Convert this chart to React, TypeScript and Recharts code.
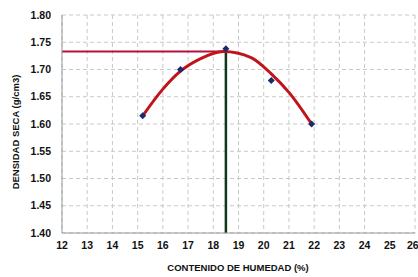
import React from 'react';
import { ComposedChart, Line, Scatter, XAxis, YAxis, CartesianGrid } from 'recharts';

const xTicks = [12, 13, 14, 15, 16, 17, 18, 19, 20, 21, 22, 23, 24, 25, 26];
const yTicks = [1.4, 1.45, 1.5, 1.55, 1.6, 1.65, 1.7, 1.75, 1.8];

const humedad = [15.2, 16.7, 18.5, 20.3, 21.9];
const densidad = [1.615, 1.7, 1.738, 1.68, 1.6];

const curveX = [15.2, 16.0, 16.7, 17.5, 18.4, 19.5, 20.3, 21.0, 21.9];
const curveY = [1.615, 1.664, 1.697, 1.72, 1.733, 1.722, 1.692, 1.658, 1.6];

const optHumedad = 18.5;
const maxDensidad = 1.733;

const points = humedad.map((x, i) => ({ x, y: densidad[i] }));
const curve = curveX.map((x, i) => ({ x, y: curveY[i] }));
const hLine = [{ x: 12, y: maxDensidad }, { x: optHumedad, y: maxDensidad }];
const vLine = [{ x: optHumedad, y: 1.4 }, { x: optHumedad, y: maxDensidad }];

const FONT = '"Liberation Sans", Arial, sans-serif';

const Diamond = (props: any) => {
  const { cx, cy } = props;
  const r = 3.5;
  return <path d={`M${cx},${cy - r}L${cx + r},${cy}L${cx},${cy + r}L${cx - r},${cy}Z`} fill="#1c2a6e" />;
};

export default function App() {
  return (
    <div style={{ position: 'absolute', left: 0, top: 0, width: 418, height: 277, background: '#fff' }}>
      <ComposedChart width={418} height={277} margin={{ top: 15, right: 3, bottom: 14, left: 0 }}>
        <CartesianGrid stroke="#c8c8c8" strokeDasharray="4 3" />
        <XAxis
          type="number"
          dataKey="x"
          domain={[12, 26]}
          ticks={xTicks}
          allowDataOverflow
          height={30}
          tickSize={0}
          tickMargin={9}
          axisLine={{ stroke: '#9a9a9a' }}
          tick={{ fill: '#111', fontSize: 10.5, fontWeight: 700, fontFamily: FONT }}
        />
        <YAxis
          type="number"
          domain={[1.4, 1.8]}
          ticks={yTicks}
          width={62}
          tickSize={0}
          tickMargin={11}
          axisLine={{ stroke: '#9a9a9a' }}
          tickFormatter={(v: number) => v.toFixed(2)}
          tick={{ fill: '#111', fontSize: 10.5, fontWeight: 700, fontFamily: FONT }}
        />
        <Line data={hLine} dataKey="y" type="linear" stroke="#b3123e" strokeWidth={2} dot={false} isAnimationActive={false} />
        <Line data={vLine} dataKey="y" type="linear" stroke="#12361a" strokeWidth={2.5} dot={false} isAnimationActive={false} />
        <Line data={curve} dataKey="y" type="monotone" stroke="#c0141c" strokeWidth={3} dot={false} isAnimationActive={false} />
        <Scatter data={points} dataKey="y" shape={<Diamond />} isAnimationActive={false} />
        <text x={238} y={271} textAnchor="middle" fontSize={9.5} fontWeight={700} fontFamily={FONT} fill="#111">
          CONTENIDO DE HUMEDAD  (%)
        </text>
        <text x={0} y={0} transform="translate(19,132) rotate(-90)" textAnchor="middle" fontSize={9.5} fontWeight={700} fontFamily={FONT} fill="#111">
          DENSIDAD SECA (g/cm3)
        </text>
      </ComposedChart>
    </div>
  );
}
